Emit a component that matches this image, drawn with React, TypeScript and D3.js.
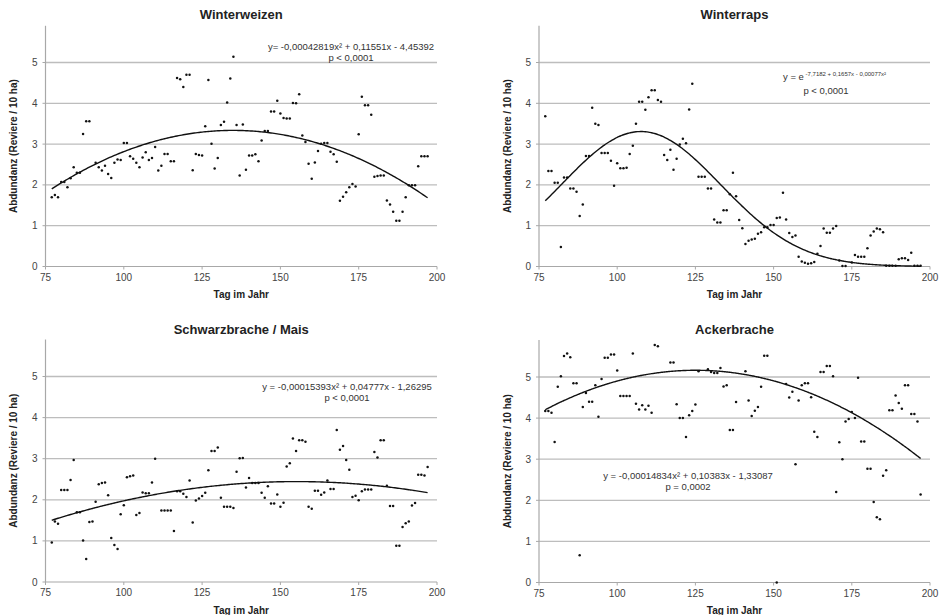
import React from "react";
import * as d3 from "d3";

const xTicks = [75, 100, 125, 150, 175, 200];
const yTicks = [0, 1, 2, 3, 4, 5];
const yMax = 5.9;

const titles = ["Winterweizen", "Winterraps", "Schwarzbrache / Mais", "Ackerbrache"];
const yAxisLabel = "Abdundanz (Reviere / 10 ha)";
const xAxisLabel = "Tag im Jahr";

const winterweizen: [number, number][] = [
  [77, 1.7], [78, 1.75], [79, 1.7], [80, 2.07], [81, 2.07], [82, 1.94], [83, 2.16], [84, 2.43], [85, 2.3], [86, 2.3],
  [87, 3.25], [88, 3.56], [89, 3.56], [91, 2.54], [92, 2.43], [93, 2.35], [94, 2.47], [95, 2.27], [96, 2.17], [97, 2.54],
  [98, 2.62], [99, 2.61], [100, 3.03], [101, 3.03], [102, 2.7], [103, 2.64], [104, 2.54], [105, 2.43], [106, 2.67], [107, 2.8],
  [108, 2.61], [109, 2.66], [110, 2.93], [111, 2.35], [112, 2.47], [113, 2.76], [114, 2.76], [115, 2.58], [116, 2.58], [117, 4.62],
  [118, 4.59], [119, 4.4], [120, 4.7], [121, 4.7], [122, 2.36], [123, 2.76], [124, 2.73], [125, 2.72], [126, 3.44], [127, 4.57],
  [128, 3.01], [129, 2.4], [130, 2.66], [131, 3.47], [132, 3.55], [133, 4.02], [134, 4.61], [135, 5.14], [136, 3.47], [137, 2.23],
  [138, 3.48], [139, 2.37], [140, 2.72], [141, 2.72], [142, 2.75], [143, 2.58], [144, 3.09], [145, 3.32], [146, 3.32], [147, 3.8],
  [148, 3.8], [149, 4.06], [150, 3.75], [151, 3.64], [152, 3.63], [153, 3.63], [154, 4.01], [155, 4.0], [156, 4.22], [157, 3.21],
  [158, 3.05], [159, 2.52], [160, 2.15], [161, 2.55], [162, 2.83], [163, 3.01], [164, 3.03], [165, 3.03], [166, 2.81], [167, 2.75],
  [168, 2.57], [169, 1.61], [170, 1.71], [171, 1.82], [172, 1.94], [173, 2.02], [174, 1.96], [175, 3.24], [176, 4.16], [177, 3.95],
  [178, 3.95], [179, 3.72], [180, 2.2], [181, 2.22], [182, 2.23], [183, 2.23], [184, 1.62], [185, 1.52], [186, 1.34], [187, 1.12],
  [188, 1.12], [189, 1.34], [190, 1.7], [191, 1.99], [192, 1.99], [193, 1.99], [194, 2.46], [195, 2.7], [196, 2.7], [197, 2.7],
];

const winterraps: [number, number][] = [
  [77, 3.68], [78, 2.34], [79, 2.34], [80, 2.05], [81, 2.05], [82, 0.48], [83, 2.18], [84, 2.18], [85, 1.91], [86, 1.91],
  [87, 1.83], [88, 1.24], [89, 1.52], [90, 2.71], [91, 2.71], [92, 3.89], [93, 3.5], [94, 3.47], [95, 2.78], [96, 2.78],
  [97, 2.78], [98, 2.59], [99, 1.98], [100, 2.53], [101, 2.41], [102, 2.41], [103, 2.42], [104, 2.76], [105, 2.96], [106, 3.5],
  [107, 4.04], [108, 4.04], [109, 3.84], [110, 4.15], [111, 4.32], [112, 4.32], [113, 4.08], [114, 4.04], [115, 2.73], [116, 2.61],
  [117, 2.86], [118, 2.37], [119, 2.64], [120, 2.99], [121, 3.13], [122, 3.02], [123, 3.85], [124, 4.48], [126, 2.2], [127, 2.2],
  [128, 2.2], [129, 1.91], [130, 1.91], [131, 1.15], [132, 1.08], [133, 1.08], [134, 1.38], [135, 1.38], [136, 1.77], [137, 2.3],
  [138, 1.72], [139, 1.14], [140, 0.94], [141, 0.55], [142, 0.63], [143, 0.66], [144, 0.68], [145, 0.8], [146, 0.84], [147, 0.96],
  [148, 0.96], [149, 1.02], [150, 1.02], [151, 1.19], [152, 1.2], [153, 1.81], [154, 1.15], [155, 0.82], [156, 0.72], [157, 0.76],
  [158, 0.24], [159, 0.12], [160, 0.09], [161, 0.07], [162, 0.08], [163, 0.11], [164, 0.31], [165, 0.5], [166, 0.93], [167, 0.83],
  [168, 0.83], [169, 0.93], [170, 0.99], [171, 0.15], [172, 0.01], [173, 0.01], [175, 0.1], [176, 0.28], [177, 0.24], [178, 0.24],
  [179, 0.24], [180, 0.45], [181, 0.76], [182, 0.86], [183, 0.93], [184, 0.91], [185, 0.84], [186, 0.02], [187, 0.02], [188, 0.02],
  [189, 0.02], [190, 0.18], [191, 0.2], [192, 0.2], [193, 0.16], [194, 0.34], [195, 0.02], [196, 0.02], [197, 0.02],
];

const schwarzbrache: [number, number][] = [
  [77, 0.96], [78, 1.47], [79, 1.42], [80, 2.24], [81, 2.24], [82, 2.24], [83, 2.48], [84, 2.97], [85, 1.7], [86, 1.7],
  [87, 1.01], [88, 0.56], [89, 1.46], [90, 1.47], [91, 1.95], [92, 2.38], [93, 2.41], [94, 2.42], [95, 2.11], [96, 1.07],
  [97, 0.9], [98, 0.8], [99, 1.65], [100, 1.87], [101, 2.55], [102, 2.57], [103, 2.59], [104, 1.63], [105, 1.68], [106, 2.18],
  [107, 2.16], [108, 2.16], [109, 2.42], [110, 3.0], [112, 1.74], [113, 1.74], [114, 1.74], [115, 1.74], [116, 1.24], [117, 2.21],
  [118, 2.21], [119, 2.15], [120, 2.07], [121, 2.47], [122, 1.45], [123, 1.98], [124, 2.03], [125, 2.09], [126, 2.17], [127, 2.72],
  [128, 3.19], [129, 3.19], [130, 3.27], [131, 2.05], [132, 1.83], [133, 1.83], [134, 1.83], [135, 1.8], [136, 2.68], [137, 3.01],
  [138, 3.02], [139, 2.3], [140, 2.53], [141, 2.41], [142, 2.41], [143, 2.41], [144, 2.17], [145, 2.05], [146, 2.33], [147, 1.91],
  [148, 1.91], [149, 2.13], [150, 1.83], [151, 1.93], [152, 2.81], [153, 2.89], [154, 3.49], [155, 3.19], [156, 3.45], [157, 3.45],
  [158, 3.41], [159, 1.83], [160, 1.78], [161, 2.22], [162, 2.22], [163, 2.12], [164, 2.18], [165, 2.47], [166, 2.26], [167, 2.26],
  [168, 3.7], [169, 3.22], [170, 3.31], [171, 2.97], [172, 2.73], [173, 2.07], [174, 2.1], [175, 1.99], [176, 2.21], [177, 2.25],
  [178, 2.25], [179, 2.25], [180, 3.16], [181, 3.03], [182, 3.45], [183, 3.45], [184, 2.34], [185, 1.85], [186, 1.85], [187, 0.88],
  [188, 0.88], [189, 1.34], [190, 1.43], [191, 1.47], [192, 1.86], [193, 1.92], [194, 2.61], [195, 2.61], [196, 2.59], [197, 2.8],
];

const ackerbrache: [number, number][] = [
  [77, 4.17], [78, 4.17], [79, 4.13], [80, 3.42], [81, 4.76], [82, 5.02], [83, 5.51], [84, 5.57], [85, 5.48], [86, 4.85],
  [87, 4.85], [88, 0.66], [89, 4.27], [90, 4.61], [91, 4.4], [92, 4.4], [93, 4.8], [94, 4.03], [95, 4.95], [96, 5.47],
  [97, 5.47], [98, 5.55], [99, 5.55], [100, 5.16], [101, 4.54], [102, 4.54], [103, 4.54], [104, 4.54], [105, 5.57], [106, 4.35],
  [107, 4.21], [108, 4.31], [109, 4.21], [110, 4.3], [111, 4.13], [112, 5.78], [113, 5.75], [117, 5.35], [118, 5.35], [119, 4.34],
  [120, 4.0], [121, 4.0], [122, 3.54], [123, 4.07], [124, 4.17], [125, 4.33], [126, 5.14], [129, 5.19], [130, 5.12], [131, 5.1],
  [132, 5.1], [133, 5.22], [134, 4.77], [135, 4.8], [136, 3.71], [137, 3.71], [138, 4.39], [141, 5.14], [142, 4.43], [143, 4.05],
  [144, 4.18], [145, 4.27], [146, 4.76], [147, 5.52], [148, 5.52], [151, 0.0], [154, 4.83], [155, 4.5], [156, 4.64], [157, 2.88],
  [158, 4.43], [159, 4.8], [160, 4.85], [161, 4.85], [162, 4.51], [163, 3.67], [164, 3.54], [165, 5.12], [166, 5.12], [167, 5.27],
  [168, 5.27], [169, 5.02], [170, 2.2], [171, 3.41], [172, 3.0], [173, 3.92], [174, 3.98], [175, 4.15], [176, 4.0], [177, 4.98],
  [178, 3.43], [179, 3.43], [180, 2.77], [181, 2.77], [182, 1.96], [183, 1.59], [184, 1.54], [185, 2.6], [186, 2.73], [187, 4.19],
  [188, 4.19], [189, 4.55], [190, 4.37], [191, 4.23], [192, 4.8], [193, 4.8], [194, 4.1], [195, 4.1], [196, 3.92], [197, 2.14],
];

// regression coefficients [a, b, c] for a*x^2 + b*x + c
const trendWeizen = [-0.00042819, 0.11551, -4.45392];
const trendRaps = [-0.00077, 0.1657, -7.7182]; // exponential of the quadratic
const trendMais = [-0.00015393, 0.04777, -1.26295];
const trendAcker = [-0.000415, 0.10383, -1.33087]; // curve as drawn in the figure
const trendRange = [77, 197];

const eqWeizen = "y= -0,00042819x² + 0,11551x - 4,45392";
const eqRapsBase = "y = e";
const eqRapsExp = "-7,7182 + 0,1657x - 0,00077x²";
const eqMais = "y = -0,00015393x² + 0,04777x - 1,26295";
const eqAcker = "y = -0,00014834x² + 0,10383x - 1,33087";
const pLess = "p < 0,0001";
const pAcker = "p = 0,0002";

const FONT = "'Liberation Sans', Arial, sans-serif";

type Layout = {
  left: number; right: number; y0: number; unit: number; titleY: number;
  eqX: number; eqY: number; pX: number; pY: number; eqAnchor: string;
};

const layouts: Layout[] = [
  { left: 45.5, right: 437, y0: 266.5, unit: 40.8, titleY: 18.5, eqX: 351, eqY: 50, pX: 351, pY: 61, eqAnchor: "middle" },
  { left: 539, right: 930, y0: 266.5, unit: 40.8, titleY: 18.5, eqX: 783, eqY: 80, pX: 826, pY: 93.5, eqAnchor: "start" },
  { left: 45.5, right: 437, y0: 582, unit: 41.1, titleY: 333.5, eqX: 347, eqY: 390, pX: 347, pY: 401, eqAnchor: "middle" },
  { left: 539, right: 930, y0: 582.5, unit: 41.1, titleY: 333.5, eqX: 688, eqY: 478.5, pX: 688, pY: 489.5, eqAnchor: "middle" },
];

function Panel(props: {
  data: [number, number][]; trend: number[]; isExp?: boolean; layout: Layout; title: string;
  eq: React.ReactNode; pText: string;
}) {
  const { data, trend, isExp, layout: L, title, eq, pText } = props;
  const x = d3.scaleLinear().domain([75, 200]).range([L.left, L.right]);
  const y = d3.scaleLinear().domain([0, yMax]).range([L.y0, L.y0 - yMax * L.unit]);
  const f = (t: number) => {
    const q = trend[0] * t * t + trend[1] * t + trend[2];
    return isExp ? Math.exp(q) : q;
  };
  const ts = d3.range(trendRange[0], trendRange[1] + 0.001, 0.5);
  const path = d3.line<number>().x((t) => x(t)).y((t) => y(f(t))).curve(d3.curveMonotoneX)(ts) || "";
  const cx = (L.left + L.right) / 2;
  const cy = (y(0) + y(yMax)) / 2;
  return (
    <g>
      {yTicks.filter((v) => v > 0).map((v) => (
        <line key={"g" + v} x1={x(75)} x2={x(200)} y1={y(v)} y2={y(v)} stroke="#bdbdbd" strokeWidth={1.3} />
      ))}
      <line x1={x(75)} x2={x(75)} y1={y(0)} y2={y(yMax)} stroke="#a8a8a8" strokeWidth={1.2} />
      <line x1={x(75)} x2={x(200)} y1={y(0)} y2={y(0)} stroke="#a8a8a8" strokeWidth={1.2} />
      {xTicks.map((v) => (
        <g key={"xt" + v}>
          <line x1={x(v)} x2={x(v)} y1={y(0)} y2={y(0) + 3} stroke="#a8a8a8" strokeWidth={1} />
          <text x={x(v)} y={y(0) + 14} textAnchor="middle" fontSize={10} fill="#444" fontFamily={FONT}>{v}</text>
        </g>
      ))}
      {yTicks.map((v) => (
        <g key={"yt" + v}>
          <line x1={x(75) - 3} x2={x(75)} y1={y(v)} y2={y(v)} stroke="#a8a8a8" strokeWidth={1} />
          <text x={x(75) - 8} y={y(v) + 3.5} textAnchor="end" fontSize={10} fill="#444" fontFamily={FONT}>{v}</text>
        </g>
      ))}
      <text x={cx} y={L.titleY} textAnchor="middle" fontSize={13} fontWeight="bold" fill="#222" fontFamily={FONT}>{title}</text>
      <text x={cx} y={y(0) + 31.5} textAnchor="middle" fontSize={10} fontWeight="bold" fill="#222" fontFamily={FONT}>{xAxisLabel}</text>
      <text transform={`translate(${L.left - 28.5},${cy}) rotate(-90)`} textAnchor="middle" fontSize={10} fontWeight="bold" fill="#222" fontFamily={FONT}>{yAxisLabel}</text>
      {data.map(([d, v], i) => (
        <circle key={i} cx={x(d)} cy={y(v)} r={1.25} fill="#111" />
      ))}
      <path d={path} fill="none" stroke="#111" strokeWidth={1.4} />
      <text x={L.eqX} y={L.eqY} textAnchor={L.eqAnchor as any} fontSize={9.5} fill="#333" fontFamily={FONT}>{eq}</text>
      <text x={L.pX} y={L.pY} textAnchor="middle" fontSize={9.5} fill="#333" fontFamily={FONT}>{pText}</text>
    </g>
  );
}

export default function App() {
  return (
    <div style={{ position: "absolute", left: 0, top: 0 }}>
      <svg width={940} height={615} style={{ display: "block", background: "#fff" }}>
        <rect width={940} height={615} fill="#fff" />
        <Panel data={winterweizen} trend={trendWeizen} layout={layouts[0]} title={titles[0]} eq={eqWeizen} pText={pLess} />
        <Panel data={winterraps} trend={trendRaps} isExp layout={layouts[1]} title={titles[1]}
          eq={<>{eqRapsBase}<tspan fontSize={6} dy={-4}>{" " + eqRapsExp}</tspan></>} pText={pLess} />
        <Panel data={schwarzbrache} trend={trendMais} layout={layouts[2]} title={titles[2]} eq={eqMais} pText={pLess} />
        <Panel data={ackerbrache} trend={trendAcker} layout={layouts[3]} title={titles[3]} eq={eqAcker} pText={pAcker} />
      </svg>
    </div>
  );
}
